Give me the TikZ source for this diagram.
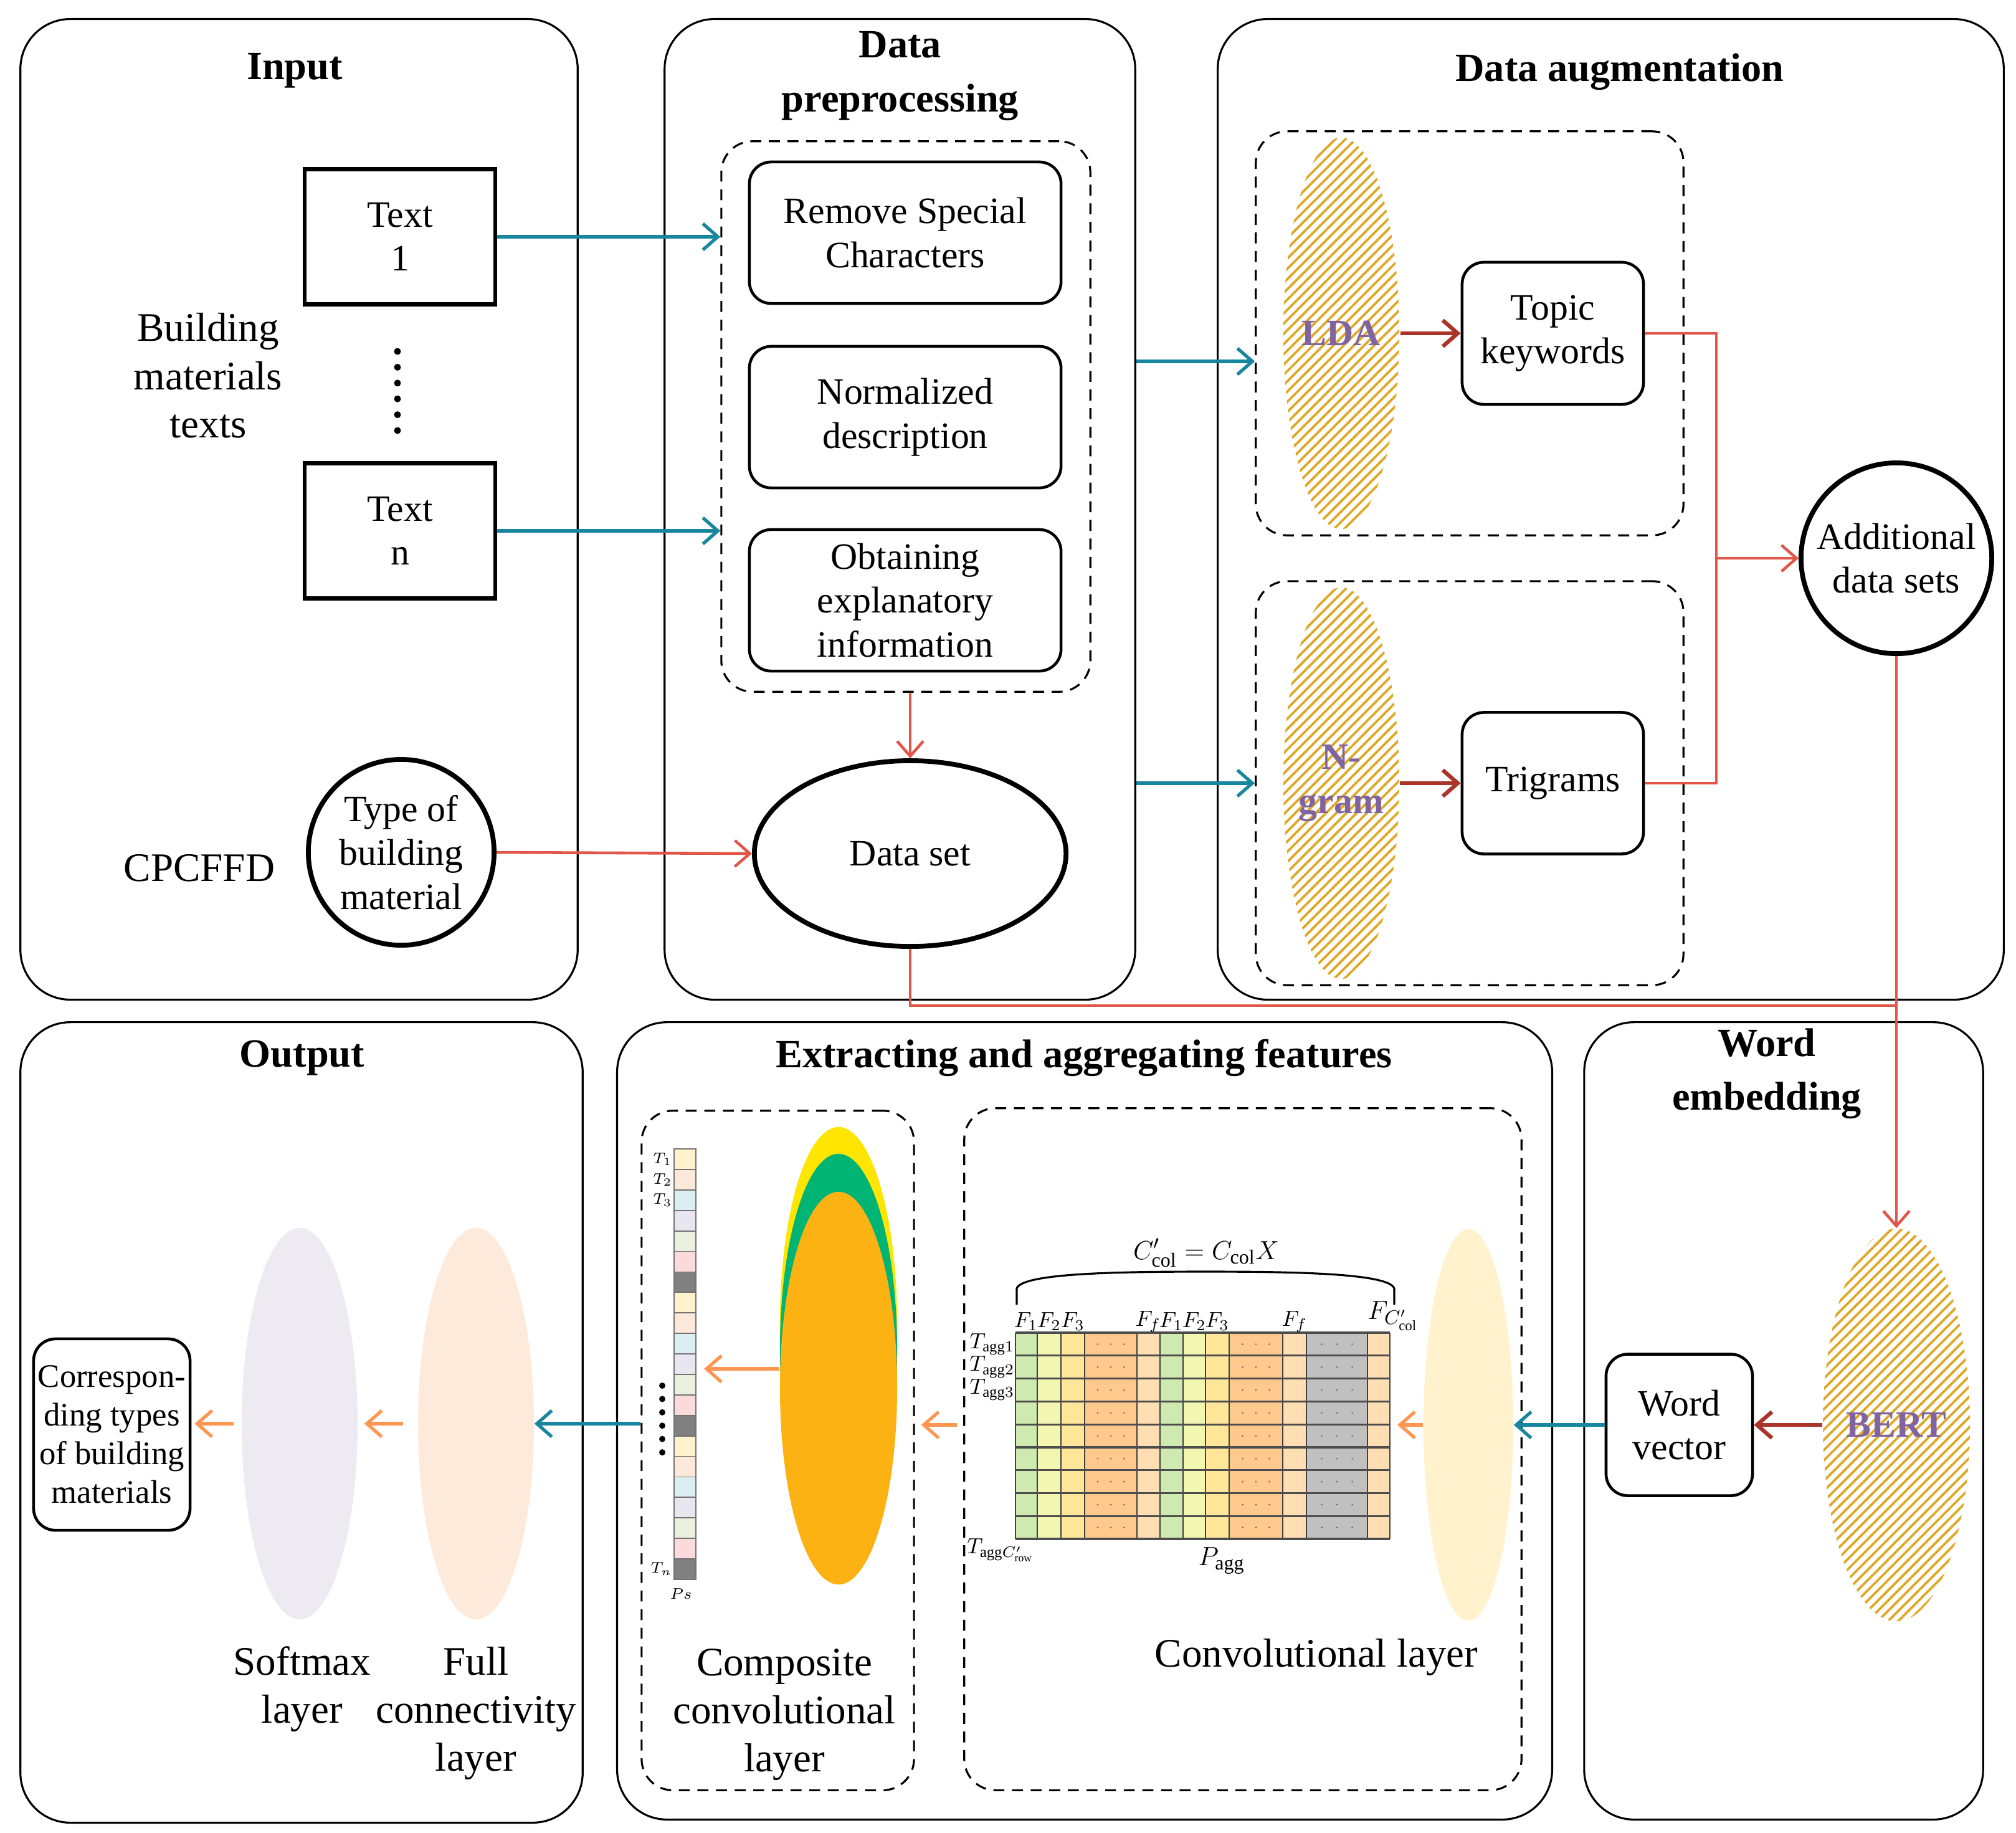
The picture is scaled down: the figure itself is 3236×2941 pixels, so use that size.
\documentclass[tikz,border=0pt]{standalone}
\usepackage{fontspec}
\setmainfont{Liberation Serif}
\usetikzlibrary{shapes.geometric,arrows.meta,patterns.meta}

\definecolor{tealc}{RGB}{23,134,158}
\definecolor{redl}{RGB}{226,86,74}
\definecolor{redd}{RGB}{170,52,40}
\definecolor{orangea}{RGB}{255,150,80}
\definecolor{hatchc}{RGB}{222,168,40}
\definecolor{ldac}{RGB}{128,100,162}
\definecolor{fcc}{RGB}{253,234,218}
\definecolor{smc}{RGB}{238,234,242}
\definecolor{cyc}{RGB}{255,242,204}
\definecolor{elly}{RGB}{255,229,0}
\definecolor{ellg}{RGB}{0,181,116}
\definecolor{ello}{RGB}{253,178,20}
\definecolor{mg}{RGB}{206,234,176}
\definecolor{mly}{RGB}{242,246,176}
\definecolor{my}{RGB}{255,230,153}
\definecolor{mo}{RGB}{255,200,140}
\definecolor{mlo}{RGB}{255,222,180}
\definecolor{mgr}{RGB}{192,192,192}
\definecolor{s0}{RGB}{255,242,204}
\definecolor{s1}{RGB}{253,233,217}
\definecolor{s2}{RGB}{218,238,243}
\definecolor{s3}{RGB}{234,230,240}
\definecolor{s4}{RGB}{235,241,222}
\definecolor{s5}{RGB}{250,218,218}
\definecolor{s6}{RGB}{128,128,128}

\newcommand{\ptxt}{\fontsize{17}{20}\selectfont}
\newcommand{\ltxt}{\fontsize{18.5}{22}\selectfont}
\newcommand{\stxt}{\fontsize{15}{17.6}\selectfont}

\tikzset{
  panel/.style={draw,rounded corners=0.8cm,line width=0.9pt,inner sep=0pt},
  ttl/.style={font=\bfseries\fontsize{18.3}{24.5}\selectfont,align=center},
  dbox/.style={draw,dash pattern=on 5pt off 3.5pt,rounded corners=0.5cm,line width=0.9pt,inner sep=0pt},
  pbox/.style={draw,rounded corners=0.35cm,line width=1.3pt,align=center,font=\ptxt,
    minimum width=5cm,minimum height=2.27cm},
  tbox/.style={draw,line width=1.8pt,align=center,font=\ptxt,minimum width=3.06cm,minimum height=2.17cm},
  circ/.style={draw,circle,line width=2.2pt,align=center,font=\ptxt,inner sep=0pt,minimum size=2.98cm},
  lbl/.style={font=\ltxt,align=center},
  lyr/.style={ellipse,inner sep=0pt,minimum width=1.86cm,minimum height=6.28cm},
  hatched/.style={lyr,pattern={Lines[angle=45,distance=3.3pt,line width=1.1pt]},pattern color=hatchc},
  hlbl/.style={font=\bfseries\ptxt,text=ldac,align=center},
  mlbl/.style={font=\fontsize{10}{12}\selectfont,inner sep=0.2pt},
  slbl/.style={font=\fontsize{7}{8}\selectfont,inner sep=0.2pt},
  tarrow/.style={->,tealc,line width=1.5pt},
  rarrow/.style={->,redl,line width=1.3pt},
  rline/.style={redl,line width=1.3pt},
  darrow/.style={->,redd,line width=1.8pt},
  oarrow/.style={->,orangea,line width=1.5pt}
}

\begin{document}
\begin{tikzpicture}[x=0.01cm,y=-0.01cm,>={Straight Barb[length=2.4mm,width=4.2mm]}]
\useasboundingbox (0,0) rectangle (3236,2941);
% frames
\node[panel,minimum width=8.94cm,minimum height=15.73cm] (pin) at (480,817.5) {};
\node[panel,minimum width=7.55cm,minimum height=15.73cm] (ppre) at (1444.5,817.5) {};
\node[panel,minimum width=12.61cm,minimum height=15.73cm] (paug) at (2585.5,817.5) {};
\node[panel,minimum width=9.02cm,minimum height=12.84cm] (pout) at (484,2283) {};
\node[panel,minimum width=15.00cm,minimum height=12.79cm] (pext) at (1741,2280.5) {};
\node[panel,minimum width=6.40cm,minimum height=12.79cm] (pemb) at (2863,2280.5) {};
\node[ttl] (tin) at (473,113) {Input};
\node[ttl] (tpre) at (1445,122) {Data\\preprocessing};
\node[ttl] (taug) at (2600,115) {Data augmentation};
\node[ttl] (tout) at (485,1698) {Output};
\node[ttl] (tfeat) at (1740,1698) {Extracting and aggregating features};
\node[ttl] (temb) at (2836,1723) {Word\\embedding};

% input
\node[tbox] (txt1) at (642,380) {Text\\1};
\node[tbox] (txtn) at (642,852) {Text\\n};
\foreach \k in {0,...,5} \fill (638,564+25.4*\k) circle (0.055cm);
\node[lbl] (bmt) at (334,603) {Building\\materials\\texts};
\node[lbl] (cpc) at (320,1393) {CPCFFD};
\node[circ] (typ) at (644,1368) {Type of\\building\\material};

% preprocessing
\node[dbox,minimum width=5.92cm,minimum height=8.83cm] (pre) at (1454,668.5) {};
\node[pbox] (rsc) at (1453,373.5) {Remove Special\\Characters};
\node[pbox] (nd) at (1453,669.5) {Normalized\\description};
\node[pbox] (oei) at (1453,963.5) {Obtaining\\explanatory\\information};
\node[draw,ellipse,line width=2.2pt,inner sep=0pt,minimum width=5.0cm,minimum height=2.98cm,font=\ptxt] (ds) at (1461,1370) {Data set};

% augmentation
\node[dbox,minimum width=6.86cm,minimum height=6.48cm] (ua) at (2359,535) {};
\node[dbox,minimum width=6.86cm,minimum height=6.48cm] (la) at (2359,1257) {};
\node[hatched] (lda) at (2153,535) {};
\node[hlbl] (ldat) at (lda) {LDA};
\node[pbox,minimum width=2.91cm,minimum height=2.28cm] (tk) at (2492.5,535) {Topic\\keywords};
\node[hatched] (ng) at (2153,1257) {};
\node[hlbl] (ngt) at (ng) {N-\\gram};
\node[pbox,minimum width=2.91cm] (tri) at (2492.5,1257) {Trigrams};
\node[circ,minimum size=3.06cm] (ads) at (3044,896) {Additional\\data sets};

% word embedding
\node[hatched,minimum width=2.36cm,minimum height=6.3cm] (bert) at (3044,2287) {};
\node[hlbl] (bertt) at (bert) {BERT};
\node[pbox,minimum width=2.35cm] (wv) at (2695.5,2287) {Word\\vector};

% extracting and aggregating
\node[dbox,minimum width=4.37cm,minimum height=10.9cm] (cdash) at (1248.5,2328) {};
\node[dbox,minimum width=8.94cm,minimum height=10.94cm] (vdash) at (1995,2326) {};
\node[lyr,fill=cyc,minimum width=1.44cm] (cy) at (2357,2287) {};
\coordinate (matE) at (2231,2304.5);
\foreach \xa/\xb/\c in {1630/1665/mg,1665/1703/mly,1703/1741/my,1741/1825/mo,1825/1862/mlo,
  1862/1899/mg,1899/1935/mly,1935/1973/my,1973/2059/mo,2059/2097/mlo,2097/2195/mgr,2195/2231/mlo}
  \fill[\c] (\xa,2139) rectangle (\xb,2470);
\foreach \xa in {1630,1665,1703,1741,1825,1862,1899,1935,1973,2059,2097,2195,2231}
  \draw[black!75,line width=0.5pt] (\xa,2139) -- (\xa,2470);
\foreach \r in {0,...,9}
  \draw[black!70,line width=0.9pt] (1630,2139+36.78*\r) -- (2231,2139+36.78*\r);
\foreach \xa/\xb in {1741/1825,1973/2059,2097/2195}
  \foreach \r in {0,...,8}
    \foreach \k in {1,2,3}
      \fill[black!60] ({\xa+(\xb-\xa)*\k/4},{2157.4+36.78*\r}) circle (0.4pt);
\draw[line width=0.9pt] (1632,2094) -- (1632,2068) .. controls (1640,2043) and (1800,2041) .. (1935,2041)
  .. controls (2070,2041) and (2230,2043) .. (2238,2068) -- (2238,2094);
\node[font=\fontsize{13}{15}\selectfont] (eq) at (1936,2011) {$C'_{\mathrm{col}}=C_{\mathrm{col}}X$};
\foreach \x/\t [count=\i] in {1647/1,1684/2,1722/3,1880/1,1917/2,1954/3}
  \node[mlbl] (fa\i) at (\x,2121) {$F_\t$};
\node[mlbl] (ff1) at (1843,2121) {$F_f$};
\node[mlbl] (ff2) at (2078,2121) {$F_f$};
\node[mlbl,font=\fontsize{13}{15}\selectfont] (fc1) at (2236,2112) {$F_{C'_{\mathrm{col}}}$};
\foreach \t [count=\i] in {1,2,3}
  \node[mlbl,anchor=east] (ta\i) at (1630,2157.4+36.78*\i-36.78) {$T_{\mathrm{agg}\t}$};
\node[mlbl] (tlast) at (1606,2488) {$T_{\mathrm{agg}C'_{\mathrm{row}}}$};
\node[font=\fontsize{13}{15}\selectfont,inner sep=0.5pt] (pagg) at (1961,2505) {$P_{\mathrm{agg}}$};

\fill[elly] (1346,2124) ellipse (0.94cm and 3.15cm);
\fill[ellg] (1346,2167) ellipse (0.94cm and 3.15cm);
\node[lyr,fill=ello,minimum width=1.88cm,minimum height=6.3cm] (cel) at (1346,2228) {};
\coordinate (psE) at (1117,2189.5);
\foreach \i in {0,...,20} {
  \pgfmathtruncatemacro\m{mod(\i,7)}
  \filldraw[draw=black!55,line width=0.5pt,fill=s\m] (1082,1844+32.9*\i) rectangle (1117,1876.9+32.9*\i);
}
\foreach \t [count=\i] in {1,2,3}
  \node[slbl,anchor=east] (st\i) at (1080,1860.5+32.9*\i-32.9) {$T_\t$};
\node[slbl,anchor=east] (stn) at (1080,2518) {$T_n$};
\node[slbl] (psl) at (1093,2558) {$Ps$};
\foreach \k in {0,...,5} \fill (1063,2224+21.4*\k) circle (0.05cm);

% output
\node[lyr,fill=fcc] (fc) at (764,2285) {};
\node[lyr,fill=smc] (sm) at (481,2285) {};
\node[pbox,minimum width=2.51cm,minimum height=3.07cm,font=\stxt,inner sep=1pt] (cor) at (179.5,2302.5) {Correspon-\\ding types\\of building\\materials};
\node[lbl] (smt) at (485,2711) {Softmax\\layer};
\node[lbl] (fct) at (764,2750) {Full\\connectivity\\layer};
\node[lbl] (cct) at (1259,2752) {Composite\\convolutional\\layer};
\node[lbl] (cvt) at (2113,2660) {Convolutional layer};

% connectors
\draw[tarrow] (txt1.east) -- (txt1.east -| pre.west);
\draw[tarrow] (txtn.east) -- (txtn.east -| pre.west);
\draw[rarrow] (ds.north |- pre.south) -- (ds.north);
\draw[rarrow] (typ.east) -- (ds.west);
\draw[tarrow] (ppre.east |- 0,580) -- (ua.west |- 0,580);
\draw[tarrow] (ppre.east |- la.west) -- (la.west);
\draw[darrow] (lda.east) -- (tk.west);
\draw[darrow] (ng.east) -- (tri.west);
\coordinate (jn) at (2755,896);
\draw[rline] (tk.east) -| (jn) |- (tri.east);
\draw[rarrow] (jn) -- (ads.west);
\coordinate (jd) at (3044,1614);
\draw[rline] (ds.south) |- (jd);
\draw[rarrow] (ads.south) -- (bert.north);
\draw[darrow] (bert.west) -- (wv.east);
\draw[tarrow] (wv.west) -- (cy.east);
\draw[oarrow] (cy.west) -- ([xshift=1.2mm]matE |- cy.west);
\draw[oarrow,shorten <=1mm,shorten >=1mm] (vdash.west |- cy.west) -- (cdash.east |- cy.west);
\coordinate (oa) at ([yshift=3.1mm]cel.west);
\draw[oarrow] (oa) -- ([xshift=1.3mm]psE |- oa);
\draw[tarrow] (cdash.west |- fc.east) -- (fc.east);
\draw[oarrow,shorten <=2.3mm,shorten >=1mm] (fc.west) -- (sm.east);
\draw[oarrow,shorten <=1.2mm,shorten >=0.5mm] (sm.west) -- (sm.west -| cor.east);
\end{tikzpicture}
\end{document}
